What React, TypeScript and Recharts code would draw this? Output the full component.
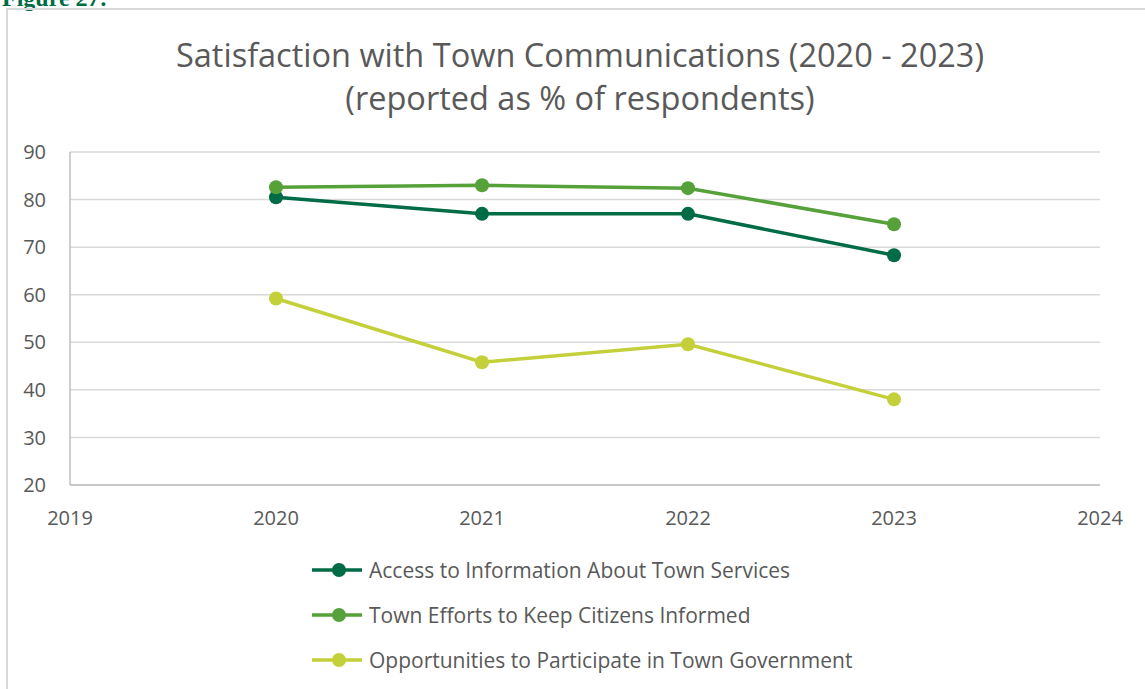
import { LineChart, Line, XAxis, YAxis, CartesianGrid } from "recharts";

const years = [2020, 2021, 2022, 2023];
const accessInfo = [80.5, 77, 77, 68.3];
const effortsInformed = [82.6, 83, 82.4, 74.8];
const participate = [59.2, 45.8, 49.6, 38];
const xTicks = [2019, 2020, 2021, 2022, 2023, 2024];
const yTicks = [20, 30, 40, 50, 60, 70, 80, 90];

const series = [
  { key: "access", name: "Access to Information About Town Services", color: "#006C45" },
  { key: "efforts", name: "Town Efforts to Keep Citizens Informed", color: "#56A13A" },
  { key: "participate", name: "Opportunities to Participate in Town Government", color: "#C4D03A" },
];

const data = years.map((year, i) => ({
  year,
  access: accessInfo[i],
  efforts: effortsInformed[i],
  participate: participate[i],
}));

const font = "'Open Sans', sans-serif";
const textColor = "#595959";

function LegendBox() {
  return (
    <div style={{ fontFamily: font, position: "absolute", left: 311, top: 547 }}>
      {series.map((s) => (
        <div key={s.key} style={{ display: "flex", alignItems: "center", height: 45 }}>
          <svg width={52} height={16} style={{ marginRight: 6 }}>
            <line x1={1} y1={8} x2={51} y2={8} stroke={s.color} strokeWidth={3.5} />
            <circle cx={28} cy={8} r={7} fill={s.color} />
          </svg>
          <span style={{ fontSize: 21, color: textColor, whiteSpace: "nowrap" }}>{s.name}</span>
        </div>
      ))}
    </div>
  );
}

export default function App() {
  return (
    <div style={{ position: "absolute", left: 0, top: 0, width: 1145, height: 689, overflow: "hidden", background: "#fff" }}>
      <div
        style={{
          position: "absolute",
          left: 2,
          top: -15,
          fontFamily: "'Liberation Serif', serif",
          fontWeight: "bold",
          fontSize: 24,
          color: "#006C45",
        }}
      >
        Figure 27:
      </div>
      <div
        style={{
          position: "absolute",
          left: 6,
          top: 8,
          width: 1150,
          height: 700,
          border: "2px solid #d9d9d9",
        }}
      />
      <div
        style={{
          position: "absolute",
          left: 0,
          top: 33,
          width: 1160,
          textAlign: "center",
          fontFamily: font,
          fontSize: 32.5,
          lineHeight: "43px",
          color: textColor,
        }}
      >
        Satisfaction with Town Communications (2020 - 2023)
        <br />
        (reported as % of respondents)
      </div>
      <div style={{ position: "absolute", left: 0, top: 0 }}>
        <LineChart width={1145} height={689} data={data} margin={{ top: 152, right: 45, bottom: 174, left: 10 }}>
          <CartesianGrid vertical={false} stroke="#d9d9d9" strokeWidth={1.5} />
          <XAxis
            dataKey="year"
            type="number"
            domain={[2019, 2024]}
            ticks={xTicks}
            tickLine={false}
            axisLine={{ stroke: "#bfbfbf", strokeWidth: 1.5 }}
            tick={{ fill: textColor, fontSize: 20, fontFamily: font }}
            tickMargin={20}
            height={30}
            interval={0}
          />
          <YAxis
            type="number"
            domain={[20, 90]}
            ticks={yTicks}
            tickLine={false}
            axisLine={{ stroke: "#bfbfbf", strokeWidth: 1.5 }}
            tick={{ fill: textColor, fontSize: 20, fontFamily: font }}
            tickMargin={18}
            width={60}
            interval={0}
          />
          {series.map((s) => (
            <Line
              key={s.key}
              dataKey={s.key}
              name={s.name}
              stroke={s.color}
              strokeWidth={3.5}
              dot={{ r: 7, fill: s.color, stroke: s.color, strokeWidth: 0 }}
              isAnimationActive={false}
            />
          ))}
        </LineChart>
      </div>
      <LegendBox />
    </div>
  );
}
